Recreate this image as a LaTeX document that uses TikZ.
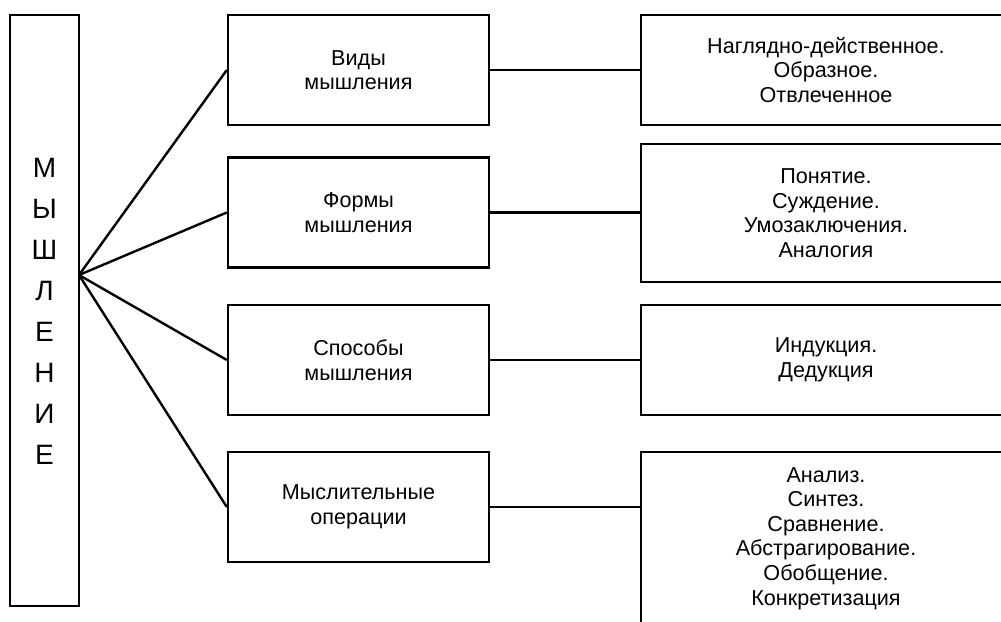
\documentclass[tikz,border=0pt]{standalone}
\usepackage{fontspec}
\setmainfont{Liberation Sans}
\usetikzlibrary{calc}
\begin{document}
\begin{tikzpicture}[x=0.5pt,y=-0.5pt,
  frame/.style={draw, line width=1.2pt, inner sep=0pt, align=center},
  txt/.style={font=\fontsize{10.8}{12.3}\selectfont},
  midbox/.style={frame, txt, minimum width=130.5pt, minimum height=55pt},
  rightbox/.style={frame, txt, minimum width=185pt},
  link/.style={line width=1.2pt}]
\useasboundingbox (0,0) rectangle (1001,621);
\clip (0,0) rectangle (1001,621);
% left vertical box
\node[frame, minimum width=34.5pt, minimum height=295.5pt] (main) at (44.5,310.5) {};
\node[align=center, font=\fontsize{14}{20.5}\selectfont] (word) at (44.5,311)
  {М\\Ы\\Ш\\Л\\Е\\Н\\И\\Е};
\coordinate (fan) at (79,275);
% middle boxes
\node[midbox] (m1) at (358.5,70) {Виды\\мышления};
\node[midbox] (m2) at (358.5,212.5) {Формы\\мышления};
\node[midbox] (m3) at (358.5,360) {Способы\\мышления};
\node[midbox] (m4) at (358.5,507) {Мыслительные\\операции};
% right boxes
\node[rightbox, minimum height=55pt] (r1) at (826,70) {Наглядно-действенное.\\Образное.\\Отвлеченное};
\node[rightbox, minimum height=69pt] (r2) at (826,213) {Понятие.\\Суждение.\\Умозаключения.\\Аналогия};
\node[rightbox, minimum height=55pt] (r3) at (826,360) {Индукция.\\Дедукция};
\node[rightbox, minimum height=86.5pt] (r4) at (826,538.5) {Анализ.\\Синтез.\\Сравнение.\\Абстрагирование.\\Обобщение.\\Конкретизация};
% connectors
\foreach \m in {m1,m2,m3,m4} \draw[link] (fan) -- (\m.west);
\draw[link] (m1.east) -- (m1.east -| r1.west);
\draw[link] (m2.east) -- (m2.east -| r2.west);
\draw[link] (m3.east) -- (m3.east -| r3.west);
\draw[link] (m4.east) -- (m4.east -| r4.west);
\end{tikzpicture}
\end{document}
